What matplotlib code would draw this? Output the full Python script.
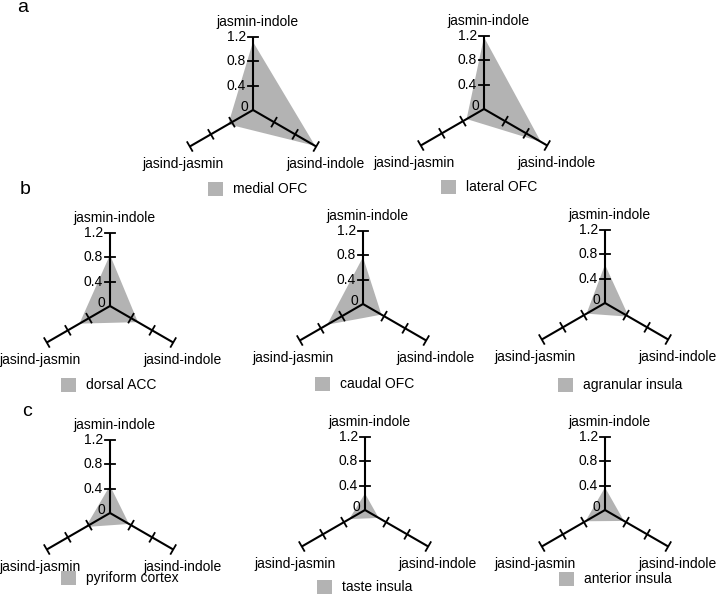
import matplotlib.pyplot as plt
import numpy as np
from matplotlib.patches import Rectangle

plt.rcParams['font.family'] = ['Liberation Sans', 'DejaVu Sans']

regions = ['medial OFC', 'lateral OFC', 'dorsal ACC', 'caudal OFC', 'agranular insula',
           'pyriform cortex', 'taste insula', 'anterior insula']
jasmin_indole = [1.12, 1.18, 0.84, 0.77, 0.63, 0.45, 0.27, 0.37]
jasind_indole = [1.18, 1.08, 0.53, 0.35, 0.45, 0.36, 0.26, 0.36]
jasind_jasmin = [0.47, 0.33, 0.58, 0.68, 0.35, 0.46, 0.30, 0.37]
axis_names = ['jasmin-indole', 'jasind-indole', 'jasind-jasmin']
ticks = [0.4, 0.8, 1.2]
tick_labels = ['0.4', '0.8', '1.2']
panel_letters = ['a', 'b', 'c']

W, H = 720, 595
fig = plt.figure(figsize=(W / 100, H / 100), dpi=100)

# panel centres (pixels from top-left) and legend offsets
centres = [(253, 110), (484, 109), (110, 306), (363, 304), (605, 303),
           (110, 513), (365, 510), (605, 510)]
leg_off = [(-45, 72), (-43, 71), (-49, 72), (-48, 73), (-47, 75),
           (-49, 58), (-48, 70), (-46, 62)]

ppu = 73 / 1.2          # pixels per data unit
half = 110              # half size of each panel axes in pixels
angles = np.deg2rad([90, -30, 210])
gray = '#b3b3b3'

for i, (cx, cy) in enumerate(centres):
    ax = fig.add_axes([(cx - half) / W, (H - cy - half) / H, 2 * half / W, 2 * half / H])
    lim = half / ppu
    ax.set_xlim(-lim, lim)
    ax.set_ylim(-lim, lim)
    ax.axis('off')
    p = 1 / ppu  # one pixel in data units

    vals = [jasmin_indole[i], jasind_indole[i], jasind_jasmin[i]]
    ax.fill(np.array(vals) * np.cos(angles), np.array(vals) * np.sin(angles),
            color=gray, lw=0, zorder=1)

    for a in angles:
        ux, uy = np.cos(a), np.sin(a)
        ax.plot([0, 1.2 * ux], [0, 1.2 * uy], color='black', lw=1.5, zorder=3,
                solid_capstyle='butt', clip_on=False)
        nx, ny = -uy, ux
        for t in ticks:
            ax.plot([t * ux - 5 * p * nx, t * ux + 5 * p * nx],
                    [t * uy - 5 * p * ny, t * uy + 5 * p * ny],
                    color='black', lw=1.3, zorder=3, clip_on=False)

    for t, lab in zip(ticks, tick_labels):
        ax.text(-7 * p, t, lab, ha='right', va='center', fontsize=10, zorder=4)
    ax.text(-5 * p, 3 * p, '0', ha='right', va='center', fontsize=10, zorder=4)

    ax.text(4 * p, 88 * p, axis_names[0], ha='center', va='center', fontsize=10)
    ax.text(73 * p, -54 * p, axis_names[1], ha='center', va='center', fontsize=10)
    ax.text(-70 * p, -54 * p, axis_names[2], ha='center', va='center', fontsize=10)

    lx, ly = leg_off[i]
    ax.add_patch(Rectangle((lx * p, -(ly + 14) * p), 15 * p, 14 * p,
                           facecolor=gray, edgecolor='none', clip_on=False))
    ax.text((lx + 25) * p, -(ly + 7) * p, regions[i], ha='left', va='center',
            fontsize=10)

for letter, (x, y) in zip(panel_letters, [(23, 8), (25, 190), (27, 412)]):
    fig.text(x / W, 1 - y / H, letter, ha='center', va='center', fontsize=14)

fig.savefig('out.png', dpi=100)
